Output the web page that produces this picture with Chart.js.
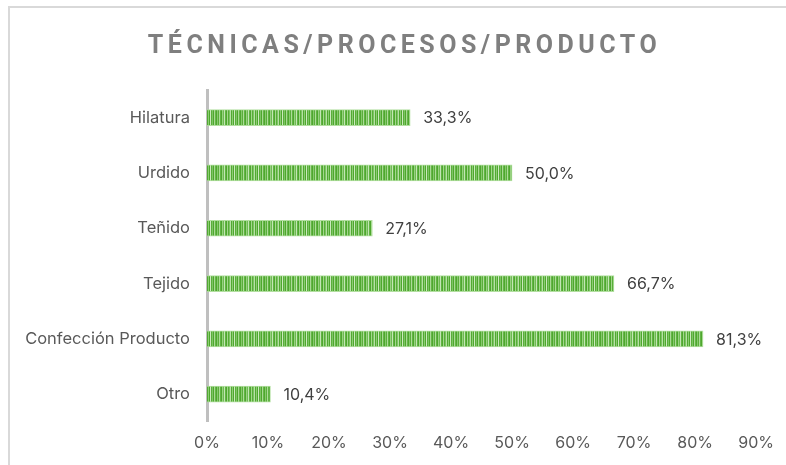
<!DOCTYPE html>
<html lang="es">

<head>
    <meta charset="UTF-8">
    <title>Técnicas/Procesos/Producto</title>
    <script src="https://cdn.jsdelivr.net/npm/chart.js"></script>
    <style>
        body {
            margin: 0;
            background: #fff;
        }

        #wrap {
            position: relative;
            width: 786px;
            height: 465px;
        }

        #frame {
            position: absolute;
            left: 8px;
            top: 6px;
            right: -4px;
            bottom: -4px;
            border-left: 2px solid #d9d9d9;
            border-top: 2px solid #d9d9d9;
            pointer-events: none;
        }
    </style>
</head>

<body>
    <div id="wrap">
        <canvas id="myChart" width="786" height="465"></canvas>
        <div id="frame"></div>
    </div>

    <script>
        const categorias = ['Hilatura', 'Urdido', 'Teñido', 'Tejido', 'Confección Producto', 'Otro'];
        const porcentajes = [33.3, 50.0, 27.1, 66.7, 81.3, 10.4];
        const ticksX = [0, 10, 20, 30, 40, 50, 60, 70, 80, 90];
        const titulo = 'TÉCNICAS/PROCESOS/PRODUCTO';

        const fuente = 'Inter, "Noto Sans", sans-serif';

        // relleno a rayas verticales, como el de la hoja de cálculo
        function rayas() {
            const cols = ['#4ea72e', '#86c96d', '#5aae3b', '#acdc98', '#62b345', '#4ea72e', '#97d180', '#6dbb52',
                '#c3e6b4', '#62b345', '#4ea72e', '#a2d78c', '#58ad39', '#7cc463', '#b6e0a5', '#52a933',
                '#8ccd73', '#4ea72e', '#cbe9be', '#5aae3b', '#7cc463', '#4ea72e', '#a8d994', '#66b549'];
            const c = document.createElement('canvas');
            c.width = cols.length;
            c.height = 4;
            const g = c.getContext('2d');
            cols.forEach((col, i) => {
                g.fillStyle = col;
                g.fillRect(i, 0, 1, 4);
            });
            return g.createPattern(c, 'repeat');
        }

        // etiquetas de valor al final de cada barra
        const etiquetas = {
            id: 'etiquetas',
            afterDatasetsDraw(chart) {
                const ctx = chart.ctx;
                const meta = chart.getDatasetMeta(0);
                ctx.save();
                ctx.font = '16px ' + fuente;
                ctx.fillStyle = '#404040';
                ctx.textBaseline = 'middle';
                ctx.textAlign = 'left';
                meta.data.forEach((bar, i) => {
                    const txt = porcentajes[i].toFixed(1).replace('.', ',') + '%';
                    ctx.fillText(txt, bar.x + 13, bar.y + 1);
                });
                ctx.restore();
            }
        };

        // espaciado de letras en el título, centrado como en el original
        const espaciado = {
            id: 'espaciado',
            afterLayout(chart) {
                const tb = chart.titleBlock;
                if (!tb || tb._espaciado) return;
                const orig = tb.draw.bind(tb);
                tb.draw = function () {
                    this.ctx.save();
                    this.ctx.letterSpacing = '4.5px';
                    this.ctx.translate(26, 0);
                    orig();
                    this.ctx.restore();
                };
                tb._espaciado = true;
            }
        };

        const data = {
            labels: categorias,
            datasets: [{
                data: porcentajes,
                backgroundColor: rayas(),
                borderColor: 'rgba(170, 220, 150, 0.9)',
                borderWidth: 1,
                barThickness: 16,
            }]
        };

        const config = {
            type: 'bar',
            data: data,
            options: {
                indexAxis: 'y',
                responsive: false,
                animation: false,
                layout: {
                    padding: { left: 0, right: 29, top: 0, bottom: 0 }
                },
                plugins: {
                    legend: { display: false },
                    tooltip: { enabled: false },
                    title: {
                        display: true,
                        text: titulo,
                        color: '#7f7f7f',
                        font: { family: 'Roboto, sans-serif', size: 25, weight: 'bold' },
                        padding: { top: 32, bottom: 28 }
                    }
                },
                scales: {
                    x: {
                        min: 0,
                        max: 90,
                        afterBuildTicks: (s) => { s.ticks = ticksX.map(v => ({ value: v })); },
                        grid: { display: false, drawTicks: false },
                        border: { display: false },
                        ticks: {
                            padding: 12,
                            color: '#595959',
                            font: { family: fuente, size: 16 },
                            callback: (v) => v + '%'
                        }
                    },
                    y: {
                        afterFit: (s) => { s.width = 207; },
                        grid: { display: false, drawTicks: false },
                        border: { display: true, color: '#bfbfbf', width: 3 },
                        ticks: {
                            padding: 17,
                            color: '#595959',
                            font: { family: fuente, size: 16.5 }
                        }
                    }
                }
            },
            plugins: [etiquetas, espaciado]
        };

        const myChart = new Chart(document.getElementById('myChart'), config);
    </script>
</body>

</html>
